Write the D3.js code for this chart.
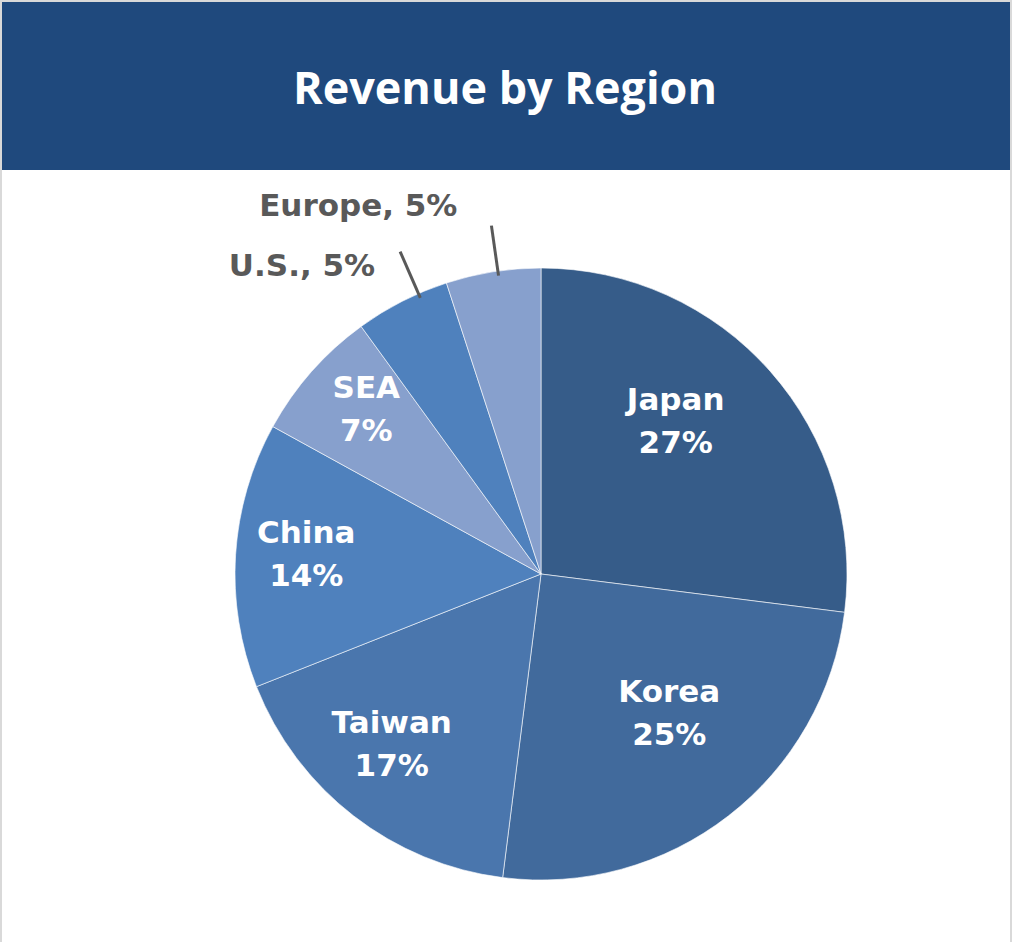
<!DOCTYPE html>
<html><head><meta charset="utf-8">
<script src="https://cdn.jsdelivr.net/npm/d3@7"></script>
<style>html,body{margin:0;padding:0;background:#fff;}svg{display:block;}</style>
</head><body>
<script>
const regions = ["Japan", "Korea", "Taiwan", "China", "SEA", "U.S.", "Europe"];
const shares = [27, 25, 17, 14, 7, 5, 5];
const colors = ["#365C89", "#416A9C", "#4A76AD", "#4F81BD", "#87A0CD", "#4F81BD", "#87A0CD"];
const outside = ["U.S.", "Europe"];
const title = "Revenue by Region";

const W = 1012, H = 942;
const svg = d3.select("body").append("svg").attr("width", W).attr("height", H);

// frame
svg.append("rect").attr("x", 0).attr("y", 0).attr("width", W).attr("height", H).attr("fill", "#d9d9d9");
svg.append("rect").attr("x", 2).attr("y", 2).attr("width", W - 4).attr("height", H - 2).attr("fill", "#fff");
svg.append("rect").attr("x", 2).attr("y", 2).attr("width", W - 4).attr("height", 168).attr("fill", "#1F497D");

const t = svg.append("text").attr("x", 505).attr("y", 104).attr("text-anchor", "middle")
  .attr("fill", "#fff").attr("font-family", "'Open Sans', sans-serif").attr("font-weight", 700)
  .attr("font-size", 46).text(title);
const tl = t.node().getComputedTextLength();
t.attr("font-size", 46 * 424 / tl);

const cx = 541, cy = 574, R = 306;
const data = regions.map((r, i) => ({ region: r, value: shares[i], color: colors[i] }));
const pie = d3.pie().value(d => d.value).sort(null);
const arcs = pie(data);
const arc = d3.arc().innerRadius(0).outerRadius(R);
const g = svg.append("g").attr("transform", `translate(${cx},${cy})`);

g.selectAll("path.slice").data(arcs).join("path").attr("class", "slice")
  .attr("d", arc).attr("fill", d => d.data.color).attr("stroke", "#fff").attr("stroke-width", 0.6);

// best-fit label nudges (like the spreadsheet's automatic label placement)
const inNudge = { "Japan": [-26, -12], "Korea": [-3, -31], "Taiwan": [-18, 0], "China": [-21, -8], "SEA": [-14, -24] };
const labelArc = d3.arc().innerRadius(R * 0.7).outerRadius(R * 0.7);
const inside = arcs.filter(d => !outside.includes(d.data.region));
const font = "'DejaVu Sans', sans-serif";
const lg = g.selectAll("g.lab").data(inside).join("g").attr("class", "lab")
  .attr("transform", d => {
    const c = labelArc.centroid(d), n = inNudge[d.data.region] || [0, 0];
    return `translate(${c[0] + n[0]},${c[1] + n[1]})`;
  });
lg.append("text").attr("text-anchor", "middle").attr("y", -10)
  .attr("fill", "#fff").attr("font-family", font).attr("font-weight", "bold")
  .attr("font-size", 31).text(d => d.data.region);
lg.append("text").attr("text-anchor", "middle").attr("y", 33)
  .attr("fill", "#fff").attr("font-family", font).attr("font-weight", "bold")
  .attr("font-size", 31).text(d => d.data.value + "%");

const angShift = { "U.S.": 3.4 * Math.PI / 180, "Europe": 0.9 * Math.PI / 180 };
const outNudge = { "U.S.": [-25, 24], "Europe": [-34, -10] };
const ext = arcs.filter(d => outside.includes(d.data.region));
ext.forEach(d => {
  const a = (d.startAngle + d.endAngle) / 2 + (angShift[d.data.region] || 0);
  const p0 = [Math.sin(a) * R * 0.985, -Math.cos(a) * R * 0.985];
  const p1 = [Math.sin(a) * R * 1.15, -Math.cos(a) * R * 1.15];
  const n = outNudge[d.data.region];
  g.append("line").attr("x1", p0[0]).attr("y1", p0[1]).attr("x2", p1[0]).attr("y2", p1[1])
    .attr("stroke", "#595959").attr("stroke-width", 3);
  g.append("text").attr("x", p1[0] + n[0]).attr("y", p1[1] + n[1])
    .attr("text-anchor", "end").attr("fill", "#595959")
    .attr("font-family", font).attr("font-weight", "bold")
    .attr("font-size", 31).text(`${d.data.region}, ${d.data.value}%`);
});
</script>
</body></html>
